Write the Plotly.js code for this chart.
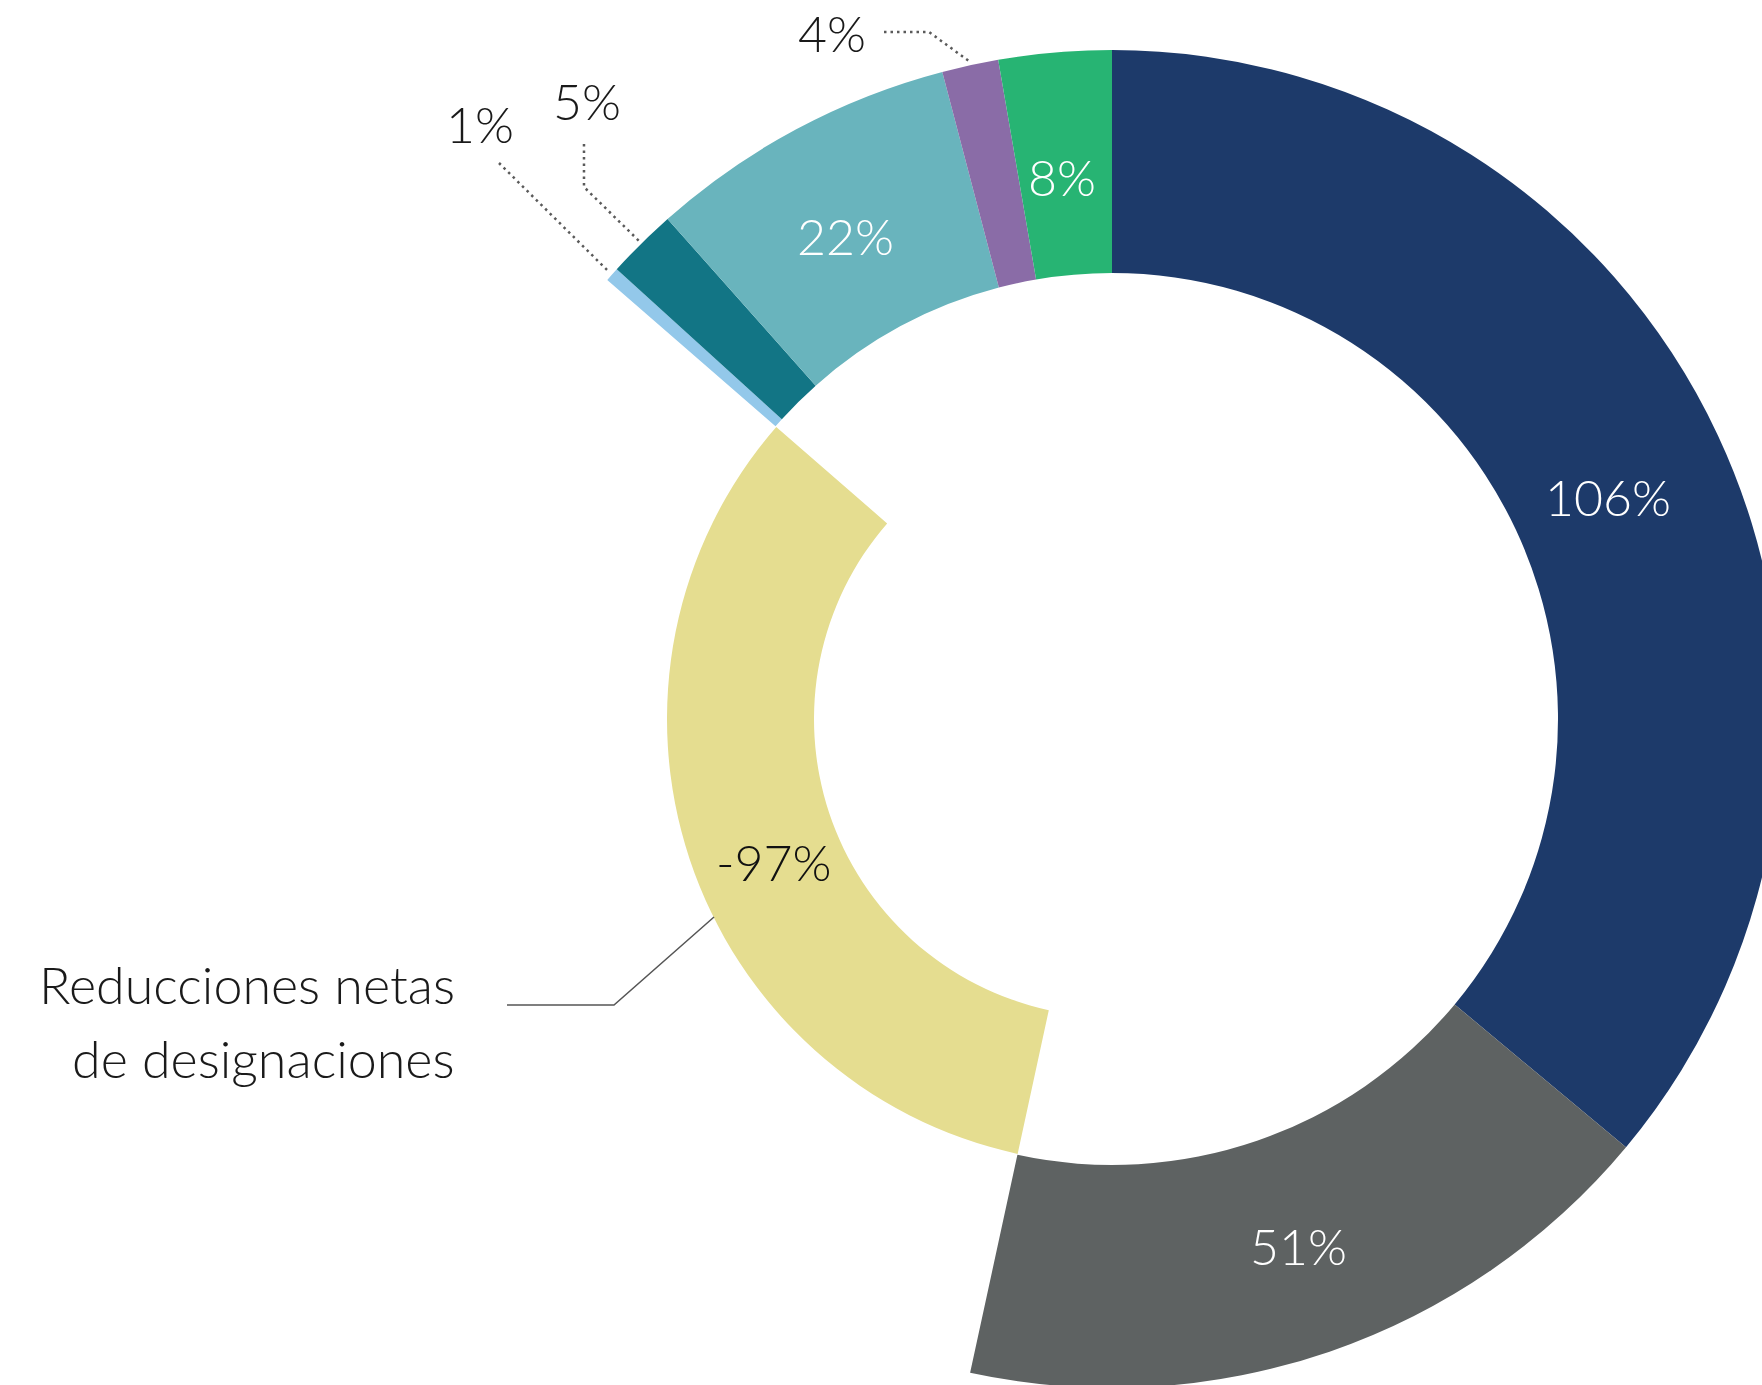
<!DOCTYPE html>
<html>
<head>
<meta charset="utf-8">
<script src="https://cdn.plot.ly/plotly-3.0.1.min.js"></script>
<style>
  html, body { margin: 0; padding: 0; overflow: hidden; background: #ffffff; }
  #chart { width: 1800px; height: 1400px; }
</style>
</head>
<body>
<div id="chart"></div>
<script>
// ---------------- DATA ----------------
const categories = ['Componente A', 'Componente B', 'Reducciones netas de designaciones',
                    'Componente C', 'Componente D', 'Componente E', 'Componente F', 'Componente G'];
const values = [106, 51, -97, 1, 5, 22, 4, 8];
const valueLabels = ['106%', '51%', '-97%', '1%', '5%', '22%', '4%', '8%'];

// ---------------- STYLE / LAYOUT ----------------
const colors = ['#1d3a6a', '#5e6262', '#e5dd90', '#93c8ea', '#127585', '#69b4bd', '#8a6ca7', '#27b473'];
const W = 1800, H = 1400;
const CX = 1112, CY = 719;          // centre of the ring (px)
const R1 = 669, R1in = 446;         // main ring radii
const R2 = 445, R2in = 298;         // inner (negative) ring radii
const FONT = 'Lato, "Open Sans", "Noto Sans", sans-serif';

const absVals = values.map(v => Math.abs(v));
const total = absVals.reduce((a, b) => a + b, 0);
const negIdx = values.map((v, i) => v < 0 ? i : -1).filter(i => i >= 0);

// mid angle of each slice (deg, clockwise from 12 o'clock)
const midAngles = [];
{
  let acc = 0;
  absVals.forEach(v => { const a = v / total * 360; midAngles.push(acc + a / 2); acc += a; });
}
const polar = (deg, r) => {
  const t = deg * Math.PI / 180;
  return [CX + r * Math.sin(t), CY - r * Math.cos(t)];
};
const px = x => x / W;
const py = y => 1 - y / H;

function domainFor(r) {
  return { x: [px(CX - r), px(CX + r)], y: [py(CY + r), py(CY - r)] };
}

const outerTrace = {
  type: 'pie',
  labels: categories,
  values: absVals,
  sort: false,
  direction: 'clockwise',
  rotation: 0,
  hole: R1in / R1,
  domain: domainFor(R1),
  marker: { colors: colors.map((c, i) => values[i] < 0 ? 'rgba(0,0,0,0)' : c), line: { width: 0 } },
  textinfo: 'none',
  hoverinfo: 'none',
  showlegend: false
};
const innerTrace = {
  type: 'pie',
  labels: categories,
  values: absVals,
  sort: false,
  direction: 'clockwise',
  rotation: 0,
  hole: R2in / R2,
  domain: domainFor(R2),
  marker: { colors: colors.map((c, i) => values[i] < 0 ? c : 'rgba(0,0,0,0)'), line: { width: 0 } },
  textinfo: 'none',
  hoverinfo: 'none',
  showlegend: false
};

// labels: inside for big slices (with small visual nudges in px), outside with dotted leaders
const insideIdx = [0, 1, 5, 7];
const nudge = { 0: [-9, 15], 1: [5, 0], 2: [14, 26], 5: [-3, 8], 7: [-2, 13] };
const outsideCfg = {
  3: { label: [480, 124], path: [[499, 163]] },
  4: { label: [587, 101], path: [[584, 144], [584, 187]] },
  6: { label: [832, 33], path: [[884, 32], [929, 32]] }
};

const annotations = [];
const shapes = [];
const pctFont = (color) => ({ family: FONT, size: 50, color: color, weight: 300 });

function addInside(i, r, color) {
  const p = polar(midAngles[i], r);
  const n = nudge[i] || [0, 0];
  annotations.push({ x: px(p[0] + n[0]), y: py(p[1] + n[1]), xref: 'paper', yref: 'paper', text: valueLabels[i],
    showarrow: false, xanchor: 'center', yanchor: 'middle', font: pctFont(color) });
}
insideIdx.forEach(i => addInside(i, (R1 + R1in) / 2, '#ffffff'));
negIdx.forEach(i => addInside(i, (R2 + R2in) / 2, '#111111'));

Object.keys(outsideCfg).forEach(k => {
  const i = +k, cfg = outsideCfg[k];
  annotations.push({ x: px(cfg.label[0]), y: py(cfg.label[1]), xref: 'paper', yref: 'paper', text: valueLabels[i],
    showarrow: false, xanchor: 'center', yanchor: 'middle', font: pctFont('#1a1a1a') });
  const end = polar(midAngles[i], R1 + 4);
  const pts = cfg.path.concat([end]);
  const d = pts.map((p, j) => (j ? 'L' : 'M') + px(p[0]).toFixed(5) + ',' + py(p[1]).toFixed(5)).join(' ');
  shapes.push({ type: 'path', xref: 'paper', yref: 'paper', path: d,
    line: { color: '#5a5a5a', width: 2.5, dash: '2.5px,4px' } });
});

// label of the negative slice
const negLabelLines = ['Reducciones netas', 'de designaciones'];
const negLabelY = [984, 1058];
negLabelLines.forEach((t, j) => {
  annotations.push({ x: px(457), y: py(negLabelY[j]), xref: 'paper', yref: 'paper', text: t,
    showarrow: false, xanchor: 'right', yanchor: 'middle',
    font: { family: FONT, size: 52, color: '#1a1a1a', weight: 300 } });
});
{
  const pts = [[507, 1005], [614, 1005], [714, 917]];
  const d = pts.map((p, j) => (j ? 'L' : 'M') + px(p[0]).toFixed(5) + ',' + py(p[1]).toFixed(5)).join(' ');
  shapes.push({ type: 'path', xref: 'paper', yref: 'paper', path: d,
    line: { color: '#555555', width: 1.5 } });
}

const layout = {
  width: W, height: H,
  margin: { l: 0, r: 0, t: 0, b: 0, pad: 0 },
  paper_bgcolor: '#ffffff',
  plot_bgcolor: '#ffffff',
  showlegend: false,
  annotations: annotations,
  shapes: shapes
};

Plotly.newPlot('chart', [outerTrace, innerTrace], layout, { displayModeBar: false, staticPlot: true });
</script>
</body>
</html>
